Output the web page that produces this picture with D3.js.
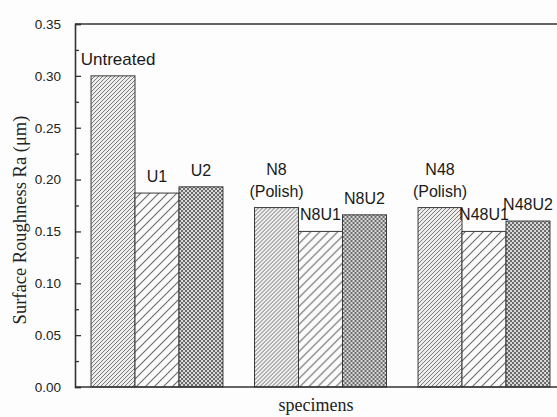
<!DOCTYPE html>
<html>
<head>
<meta charset="utf-8">
<script src="https://cdn.jsdelivr.net/npm/d3@7"></script>
<style>
  html, body { margin: 0; padding: 0; background: #fdfdfd; }
  svg { display: block; }
</style>
</head>
<body>
<svg id="chart" width="557" height="417"></svg>
<script>
// Surface roughness (Ra, µm) per specimen, in three treatment groups
const groups = ["Untreated", "N8", "N48"];
const seriesKeys = ["base", "u1", "u2"];
const groupValues = [
  [0.300, 0.187, 0.193],
  [0.173, 0.150, 0.166],
  [0.173, 0.150, 0.160]
];
const barLabels = [
  [["Untreated"], ["U1"], ["U2"]],
  [["N8", "(Polish)"], ["N8U1"], ["N8U2"]],
  [["N48", "(Polish)"], ["N48U1"], ["N48U2"]]
];
const yTicks = [0, 0.05, 0.10, 0.15, 0.20, 0.25, 0.30, 0.35];
const yMinorTicks = [0.025, 0.075, 0.125, 0.175, 0.225, 0.275, 0.325];

const svg = d3.select("#chart");
const margin = { left: 75, top: 24 };
const plotBottom = 387;
const plotRight = 566;

const y = d3.scaleLinear().domain([0, 0.35]).range([plotBottom, margin.top]);
const x0 = d3.scaleBand().domain(groups).range([margin.left, plotRight])
  .paddingInner(0.193).paddingOuter(0.098);
const x1 = d3.scaleBand().domain(seriesKeys).range([0, x0.bandwidth()]);

// Fill patterns
const defs = svg.append("defs");
const dense = defs.append("pattern").attr("id", "p-base")
  .attr("patternUnits", "userSpaceOnUse").attr("width", 4).attr("height", 4);
dense.append("rect").attr("width", 4).attr("height", 4).attr("fill", "#eeeeee");
dense.append("path").attr("d", "M-1,1 l2,-2 M0,4 l4,-4 M3,5 l2,-2")
  .attr("stroke", "#787878").attr("stroke-width", 1);

const sparse = defs.append("pattern").attr("id", "p-u1")
  .attr("patternUnits", "userSpaceOnUse").attr("width", 9).attr("height", 9);
sparse.append("rect").attr("width", 9).attr("height", 9).attr("fill", "#fbfbfb");
sparse.append("path").attr("d", "M-1,1 l2,-2 M0,9 l9,-9 M8,10 l2,-2")
  .attr("stroke", "#6a6a6a").attr("stroke-width", 1.1);

const checker = defs.append("pattern").attr("id", "p-u2")
  .attr("patternUnits", "userSpaceOnUse").attr("width", 4).attr("height", 4);
checker.append("rect").attr("width", 4).attr("height", 4).attr("fill", "#dadada");
checker.append("rect").attr("x", 0).attr("y", 0).attr("width", 2).attr("height", 2).attr("fill", "#6a6a6a");
checker.append("rect").attr("x", 2).attr("y", 2).attr("width", 2).attr("height", 2).attr("fill", "#6a6a6a");

// Bars
const gGroups = svg.append("g").selectAll("g")
  .data(groups.map((g, i) => ({ g, i })))
  .join("g")
  .attr("transform", d => `translate(${x0(d.g)},0)`);

gGroups.selectAll("rect")
  .data(d => seriesKeys.map((k, j) => ({ k, v: groupValues[d.i][j] })))
  .join("rect")
  .attr("x", d => x1(d.k))
  .attr("y", d => y(d.v))
  .attr("width", x1.bandwidth())
  .attr("height", d => y(0) - y(d.v))
  .attr("fill", d => `url(#p-${d.k})`)
  .attr("stroke", "#3a3a3a")
  .attr("stroke-width", 1);

// Bar labels
const labelFont = "'Liberation Sans', Arial, sans-serif";
gGroups.each(function (d) {
  const g = d3.select(this);
  seriesKeys.forEach((k, j) => {
    const lines = barLabels[d.i][j];
    const v = groupValues[d.i][j];
    const cx = x1(k) + x1.bandwidth() / 2;
    const base = y(v) - 11;
    const size = lines[0] === "Untreated" ? 17 : 16;
    lines.forEach((t, li) => {
      g.append("text")
        .attr("x", cx + (lines[0] === "Untreated" ? 5 : 0))
        .attr("y", base - (lines.length - 1 - li) * 22)
        .attr("text-anchor", "middle")
        .attr("font-family", labelFont)
        .attr("font-size", size)
        .attr("fill", "#1a1a1a")
        .text(t);
    });
  });
});

// Frame: top line and bottom axis line
svg.append("line").attr("x1", margin.left).attr("x2", plotRight)
  .attr("y1", y(0.35)).attr("y2", y(0.35))
  .attr("stroke", "#333").attr("stroke-width", 1.6);
svg.append("line").attr("x1", margin.left).attr("x2", plotRight)
  .attr("y1", y(0)).attr("y2", y(0))
  .attr("stroke", "#333").attr("stroke-width", 1.6);

// Y axis with inward ticks
const yAxis = d3.axisLeft(y).tickValues(yTicks).tickFormat(d3.format(".2f"))
  .tickSize(-6).tickPadding(14);
const ay = svg.append("g").attr("transform", `translate(${margin.left},0)`).call(yAxis);
ay.select(".domain").attr("stroke", "#333").attr("stroke-width", 1.6);
ay.selectAll(".tick line").attr("stroke", "#333").attr("stroke-width", 1.3);
ay.selectAll(".tick text")
  .attr("font-family", labelFont).attr("font-size", 13.5).attr("fill", "#222");

const yMinor = d3.axisLeft(y).tickValues(yMinorTicks).tickSize(-4).tickFormat("");
const am = svg.append("g").attr("transform", `translate(${margin.left},0)`).call(yMinor);
am.select(".domain").remove();
am.selectAll(".tick line").attr("stroke", "#333").attr("stroke-width", 1.3);

// Axis titles
svg.append("text")
  .attr("transform", `translate(26,220) rotate(-90)`)
  .attr("text-anchor", "middle")
  .attr("font-family", "'Liberation Serif', 'Times New Roman', serif")
  .attr("font-size", 18.5).attr("fill", "#222")
  .text("Surface Roughness Ra (μm)");

svg.append("text")
  .attr("x", 316).attr("y", 411)
  .attr("text-anchor", "middle")
  .attr("font-family", "'Liberation Serif', 'Times New Roman', serif")
  .attr("font-size", 18).attr("fill", "#222")
  .text("specimens");
</script>
</body>
</html>
